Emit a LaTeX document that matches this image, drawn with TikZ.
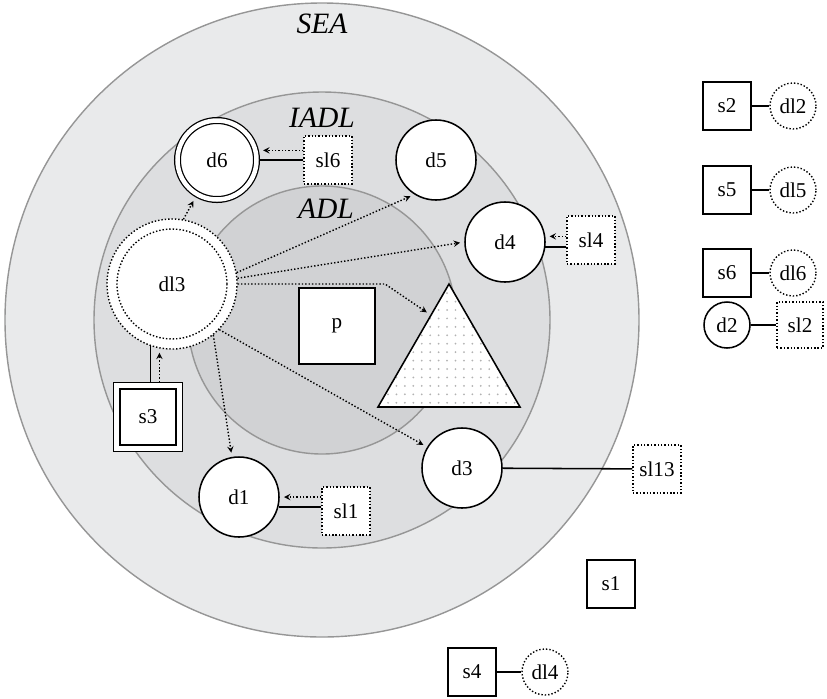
\documentclass[tikz,border=0pt]{standalone}
\usepackage{fontspec}
\setmainfont{Liberation Serif}
\usetikzlibrary{shapes.geometric,patterns.meta}
\definecolor{seafill}{RGB}{233,234,235}
\definecolor{iadlfill}{RGB}{221,222,224}
\definecolor{adlfill}{RGB}{209,210,212}
\definecolor{ringgray}{RGB}{150,150,150}
\begin{document}
\begin{tikzpicture}[>=stealth,
  every node/.style={font=\fontsize{15}{18}\selectfont},
  ring/.style={draw=ringgray, line width=1pt},
  zone/.style={font=\fontsize{21}{24}\selectfont\itshape, inner sep=0pt},
  dotln/.style={line width=1pt, dash pattern=on 1pt off 1.4pt},
  dev/.style={draw, circle, fill=white, line width=1.1pt, minimum size=2cm, inner sep=0pt},
  src/.style={draw, rectangle, fill=white, line width=1.1pt, minimum size=1.2cm, inner sep=0pt},
  ldev/.style={draw, circle, dotln, fill=white, minimum size=1.15cm, inner sep=0pt},
  lsrc/.style={draw, rectangle, dotln, fill=white, minimum size=1.2cm, inner sep=0pt},
  link/.style={line width=1.1pt},
  arr/.style={->, dotln, shorten >=3pt}]
\useasboundingbox (-8.05,-9.45) rectangle (12.625,8.0);

\filldraw[ring, fill=seafill] (0,0) circle (7.925);
\filldraw[ring, fill=iadlfill] (0,0) circle (5.7);
\filldraw[ring, fill=adlfill] (0,0) circle (3.35);

\node[zone] (sea) at (0,7.4) {SEA};
\node[zone] (iadl) at (0,5.05) {IADL};
\node[zone] (adl) at (0.1,2.78) {ADL};

\node[dev, double, double distance=3.2pt, line width=0.9pt, minimum size=1.975cm, outer sep=2.5pt] (d6) at (-2.625,4.0) {d6};
\node[lsrc] (sl6) at (0.15,4.0) {sl6};
\node[dev] (d5) at (2.85,4.0) {d5};
\node[dev] (d4) at (4.575,1.95) {d4};
\node[lsrc] (sl4) at (6.725,2.0) {sl4};
\node[ldev, minimum size=3.25cm] (dl3) at (-3.75,0.9) {dl3};
\draw[dotln] (dl3.center) circle (1.375);
\node[src, minimum size=1.9cm] (p) at (0.375,-0.15) {p};
\node[regular polygon, regular polygon sides=3, draw, line width=1.1pt, minimum size=4.1cm, inner sep=0pt,
  preaction={fill=white}, pattern={Dots[distance=6pt, radius=0.7pt]}, pattern color=black!30] (tri) at (3.175,-1.15) {};
\node[src, double, double distance=3.5pt, line width=1pt, minimum size=1.56cm, outer sep=2.7pt] (s3) at (-4.35,-2.425) {s3};
\node[dev] (d1) at (-2.075,-4.425) {d1};
\node[lsrc] (sl1) at (0.6,-4.775) {sl1};
\node[dev] (d3) at (3.5,-3.7) {d3};
\node[lsrc] (sl13) at (8.375,-3.725) {sl13};

\node[src] (s2) at (10.125,5.35) {s2};
\node[ldev] (dl2) at (11.775,5.35) {dl2};
\node[src] (s5) at (10.125,3.25) {s5};
\node[ldev] (dl5) at (11.775,3.25) {dl5};
\node[src] (s6) at (10.125,1.175) {s6};
\node[ldev] (dl6) at (11.775,1.175) {dl6};
\node[dev, minimum size=1.15cm] (d2) at (10.125,-0.125) {d2};
\node[lsrc, minimum size=1.15cm] (sl2) at (11.95,-0.125) {sl2};
\node[src] (s1) at (7.225,-6.6) {s1};
\node[src] (s4) at (3.75,-8.8) {s4};
\node[ldev] (dl4) at (5.575,-8.8) {dl4};

\coordinate (tribend) at (1.575,0.9);

\draw[arr] (dl3.80) -- (d6.240);
\draw[arr] (dl3.10) -- (d5.238);
\draw[arr] (dl3.5) -- (d4.west);
\draw[arr] (dl3.east) -- (tribend) -- (tri.110);
\draw[arr] (dl3.-44) -- (d3.149);
\draw[arr] (dl3.-51) -- (d1.100);

\draw[link] (d6) -- (sl6);
\draw[arr] (sl6.west |- d6.13) -- (d6.13);
\draw[link] (d4.-7) -- (d4.-7 -| sl4.west);
\draw[arr] (sl4.west |- d4.8) -- (d4.8);
\draw[link] (d1.-14) -- (d1.-14 -| sl1.west);
\draw[arr] (sl1.west |- d1.east) -- (d1.east);
\draw[link] (dl3.-109) -- (dl3.-109 |- s3.north);
\draw[arr] (dl3.-101 |- s3.north) -- (dl3.-101);
\draw[link] (d3) -- (sl13);

\draw[link] (s2) -- (dl2);
\draw[link] (s5) -- (dl5);
\draw[link] (s6) -- (dl6);
\draw[link] (d2) -- (sl2);
\draw[link] (s4) -- (dl4);
\end{tikzpicture}
\end{document}
